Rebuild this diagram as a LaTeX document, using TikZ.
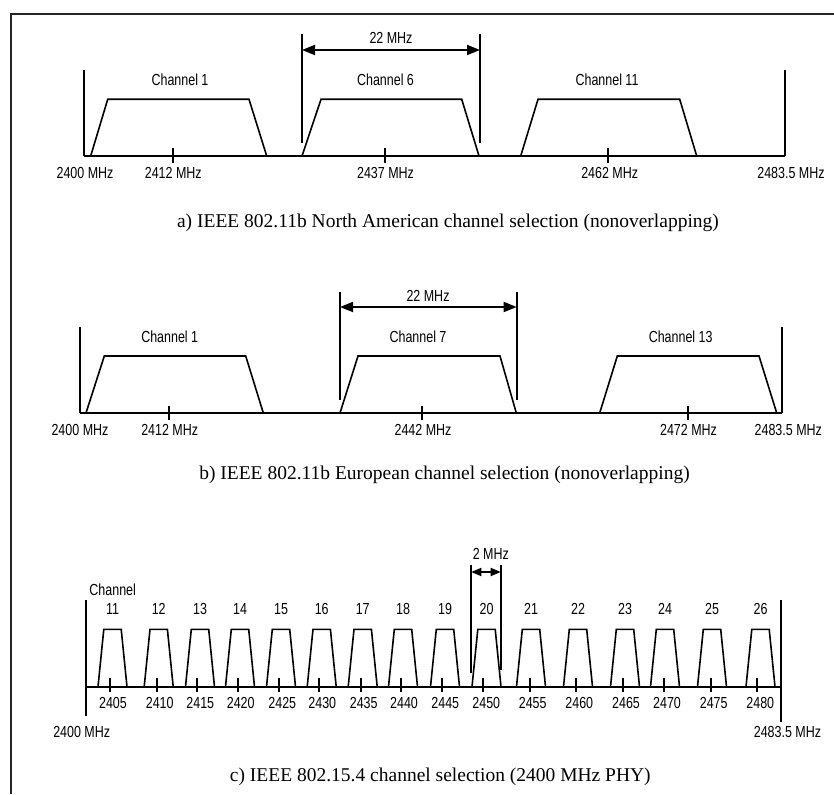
\documentclass[tikz,border=0pt]{standalone}
\usepackage{fontspec}
\setmainfont{Liberation Serif}
\newfontfamily\labfont[FakeStretch=0.78]{Liberation Sans}
\usetikzlibrary{arrows.meta}

\tikzset{
  lab/.style={font=\labfont\fontsize{16}{18}\selectfont, inner sep=0pt},
  captxt/.style={font=\fontsize{19.5}{22}\selectfont, inner sep=0pt},
  axis/.style={line width=2pt},
  chan/.style={line width=1.6pt, line join=miter},
  dimbig/.style={line width=1.8pt, {Triangle[length=13pt,width=10pt]}-{Triangle[length=13pt,width=10pt]}},
  dimsmall/.style={line width=1.8pt, {Triangle[length=10pt,width=8pt]}-{Triangle[length=10pt,width=8pt]}},
}

\begin{document}
\begin{tikzpicture}[x=1pt,y=-1pt]
  \useasboundingbox (0,0) rectangle (834,794);
  % frame (only left and top edges visible)
  \draw[line width=2pt, black!85] (11,794) -- (11,14) -- (834,14);

  % ---------- a) 802.11b North America ----------
  \def\ya{156}
  \def\ta{99.3}
  \draw[axis] (84,\ya) -- (785,\ya);
  \draw[axis] (84,70) -- (84,\ya);
  \draw[axis] (785,70) -- (785,\ya);
  \foreach \x in {173,385,608} \draw[axis] (\x,148) -- (\x,163);
  % channels 1, 6, 11
  \draw[chan] (90.7,\ya) -- (107.7,\ta) -- (249,\ta) -- (266.7,\ya);
  \draw[chan] (302,\ya) -- (321,\ta) -- (461.7,\ta) -- (479,\ya);
  \draw[chan] (520.7,\ya) -- (538,\ta) -- (679.7,\ta) -- (696.7,\ya);
  \node[lab] (a-ch1) at (180,80) {Channel 1};
  \node[lab] (a-ch6) at (385.5,80) {Channel 6};
  \node[lab] (a-ch11) at (607,80) {Channel 11};
  % 22 MHz width
  \draw[axis] (302,34) -- (302,143);
  \draw[axis] (480,34) -- (480,143);
  \coordinate (a-dl) at (302,50);
  \coordinate (a-dr) at (480,50);
  \draw[dimbig] (a-dl) -- (a-dr);
  \node[lab] (a-w) at (391,37.7) {22 MHz};
  % frequencies
  \node[lab] (a-f0) at (85,173.3) {2400 MHz};
  \node[lab] (a-f1) at (173.3,173.3) {2412 MHz};
  \node[lab] (a-f6) at (385.5,173.3) {2437 MHz};
  \node[lab] (a-f11) at (609.7,173.3) {2462 MHz};
  \node[lab] (a-fe) at (791,173.3) {2483.5 MHz};
  \node[captxt] (a-cap) at (448,223) {a) IEEE 802.11b North American channel selection (nonoverlapping)};

  % ---------- b) 802.11b Europe ----------
  \def\yb{413}
  \def\tb{356}
  \draw[axis] (80,\yb) -- (781.7,\yb);
  \draw[axis] (80,327) -- (80,\yb);
  \draw[axis] (781.7,327) -- (781.7,\yb);
  \foreach \x in {169,422,688} \draw[axis] (\x,405.7) -- (\x,420);
  % channels 1, 7, 13
  \draw[chan] (86,\yb) -- (104.3,\tb) -- (245.7,\tb) -- (263.3,\yb);
  \draw[chan] (340,\yb) -- (358,\tb) -- (500,\tb) -- (516.3,\yb);
  \draw[chan] (599.7,\yb) -- (617.3,\tb) -- (759,\tb) -- (776.7,\yb);
  \node[lab] (b-ch1) at (169.7,336.7) {Channel 1};
  \node[lab] (b-ch7) at (418,336.7) {Channel 7};
  \node[lab] (b-ch13) at (680.7,336.7) {Channel 13};
  % 22 MHz width
  \draw[axis] (340,292) -- (340,400);
  \draw[axis] (516.7,292) -- (516.7,400);
  \coordinate (b-dl) at (340,307);
  \coordinate (b-dr) at (516.7,307);
  \draw[dimbig] (b-dl) -- (b-dr);
  \node[lab] (b-w) at (428,295.7) {22 MHz};
  % frequencies
  \node[lab] (b-f0) at (80,430) {2400 MHz};
  \node[lab] (b-f1) at (169.7,430) {2412 MHz};
  \node[lab] (b-f7) at (423,430) {2442 MHz};
  \node[lab] (b-f13) at (688.5,430) {2472 MHz};
  \node[lab] (b-fe) at (788.3,430) {2483.5 MHz};
  \node[captxt] (b-cap) at (444.5,475) {b) IEEE 802.11b European channel selection (nonoverlapping)};

  % ---------- c) 802.15.4 (2400 MHz PHY) ----------
  \def\yc{686.7}
  \def\tc{629.3}
  \draw[axis] (86,\yc) -- (780.7,\yc);
  \draw[axis] (86,600) -- (86,716);
  \draw[axis] (780.7,600) -- (780.7,722);
  % channel / centre of trapezoid / tick
  \foreach \n/\cx/\tx in {11/112.5/110, 12/158.7/156.7, 13/200/197.3, 14/240/237.7,
      15/281/279.3, 16/321.7/319.3, 17/362.7/360.7, 18/403/401, 19/445/442.3,
      20/486.5/483.3, 21/531/529.7, 22/578/576.3, 23/625/623, 24/665/664,
      25/712/710.7, 26/760.5/757.3}{
    \draw[chan] ({\cx-14.5},\yc) -- ({\cx-8.7},\tc) -- ({\cx+8.7},\tc) -- ({\cx+14.5},\yc);
    \draw[axis] (\tx,678) -- (\tx,692);
    \node[lab] (c-ch\n) at (\cx,609) {\n};
    \pgfmathtruncatemacro\fq{2400+5*(\n-10)}
    \node[lab] (c-f\n) at ({\tx+3},702.7) {\fq};
  }
  \node[lab] (c-chan) at (112.7,589.3) {Channel};
  % 2 MHz width
  \draw[axis] (471.3,565) -- (471.3,673);
  \draw[axis] (500.7,565) -- (500.7,670);
  \coordinate (c-dl) at (471.3,572);
  \coordinate (c-dr) at (500.7,572);
  \draw[dimsmall] (c-dl) -- (c-dr);
  \node[lab] (c-w) at (490.8,554.3) {2 MHz};
  \node[lab] (c-f0) at (81.7,731.7) {2400 MHz};
  \node[lab] (c-fe) at (787.5,731.7) {2483.5 MHz};
  \node[captxt] (c-cap) at (440.3,776.7) {c) IEEE 802.15.4 channel selection (2400 MHz PHY)};
\end{tikzpicture}
\end{document}
